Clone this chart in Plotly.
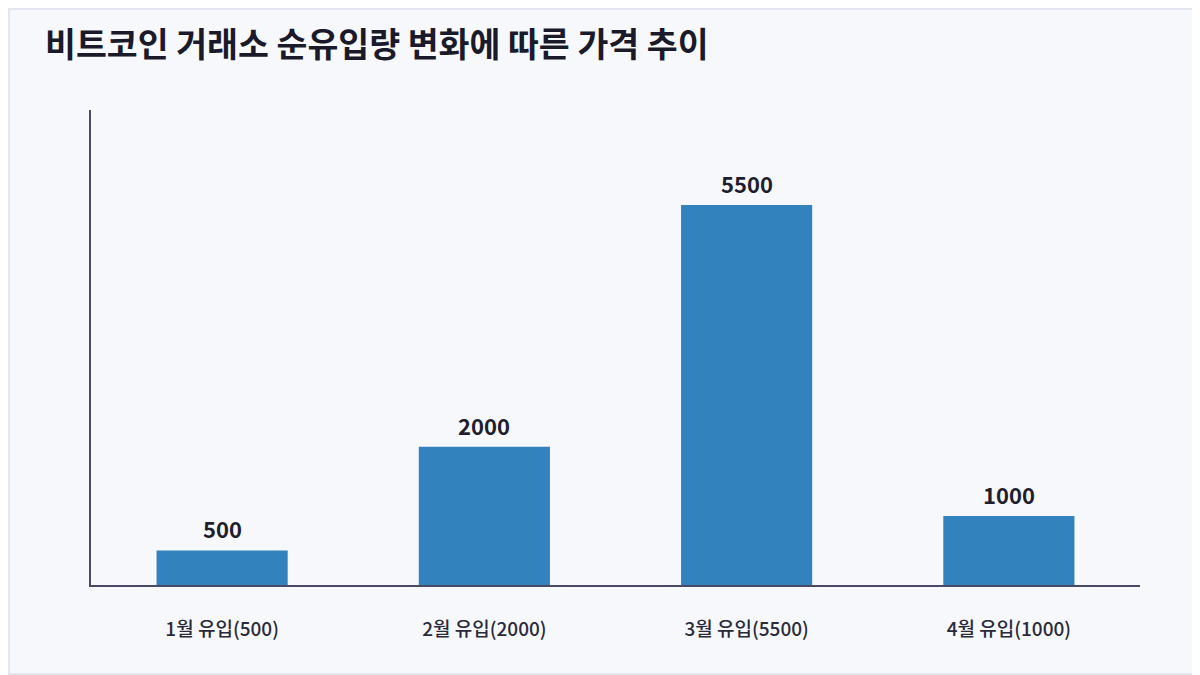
import plotly.graph_objects as go

# data
months = ["1월 유입(500)", "2월 유입(2000)", "3월 유입(5500)", "4월 유입(1000)"]
inflow = [500, 2000, 5500, 1000]

# page body has an 8px margin, so the figure is a bit smaller than the window
W, H = 1192, 667
L, R, T, B = 83, 60, 102, 90
pw, ph = W - L - R, H - T - B

fig = go.Figure()
fig.add_trace(
    go.Bar(
        x=months,
        y=inflow,
        width=0.5,
        marker=dict(color="#3182bd", line=dict(width=0)),
        hoverinfo="skip",
    )
)

# value labels above the bars
for m, v in zip(months, inflow):
    fig.add_annotation(
        x=m,
        y=v,
        text=str(v),
        showarrow=False,
        yanchor="middle",
        yshift=22,
        font=dict(family="Noto Sans CJK KR", size=22, color="#1e1e2e", weight="bold"),
    )

fig.update_layout(
    width=W,
    height=H,
    margin=dict(l=L, r=R, t=T, b=B),
    paper_bgcolor="#f7f8fc",
    plot_bgcolor="#f7f8fc",
    font=dict(family="Noto Sans CJK KR", color="#1e1e2e"),
    title=dict(
        text="<b>비트코인 거래소 순유입량 변화에 따른 가격 추이</b>",
        x=37 / W,
        xanchor="left",
        y=1 - 37 / H,
        yanchor="middle",
        font=dict(size=33.6, color="#1a1a2a"),
    ),
    showlegend=False,
    bargap=0.5,
)

fig.update_xaxes(
    showline=True,
    linecolor="#4a4a66",
    linewidth=2,
    showgrid=False,
    ticks="",
    ticklabelstandoff=26,
    tickfont=dict(size=19, color="#2a2a3a", weight=500),
)
fig.update_yaxes(
    range=[0, 6875],
    showline=True,
    linecolor="#4a4a66",
    linewidth=2,
    showgrid=False,
    zeroline=False,
    showticklabels=False,
    ticks="",
)

# light frame around the whole picture
fig.add_shape(
    type="rect",
    xref="paper",
    yref="paper",
    x0=-(L - 1) / pw,
    x1=1 + (R - 1) / pw,
    y0=-(B - 1) / ph,
    y1=1 + (T - 1) / ph,
    line=dict(color="#e3e6ee", width=2),
    fillcolor="rgba(0,0,0,0)",
    layer="below",
)

fig.write_html("out.html")
